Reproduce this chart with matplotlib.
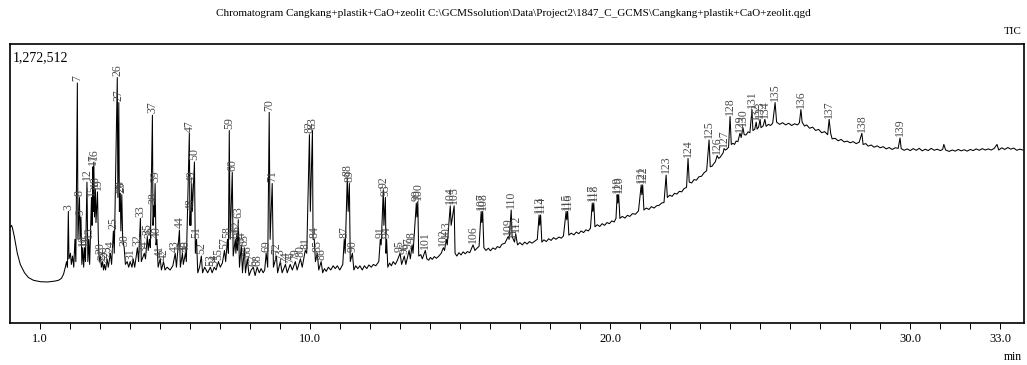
import matplotlib.pyplot as plt

plt.rcParams['font.family'] = ['Liberation Serif', 'DejaVu Serif']

title = ("Chromatogram Cangkang+plastik+CaO+zeolit C:\\GCMSsolution\\Data\\Project2\\"
         "1847_C_GCMS\\Cangkang+plastik+CaO+zeolit.qgd")
FULL_SCALE = 1272512          # counts at top of frame
x_ticks = list(range(1, 34))
x_ticklabels = {1: '1.0', 10: '10.0', 20: '20.0', 30: '30.0', 33: '33.0'}

# TIC trace: (retention time in min, % of full scale)
trace_points = [
    (0.03, 34.4), (0.07, 35.0), (0.10, 34.0), (0.16, 31.0), (0.26, 25.0), (0.36, 21.0),
    (0.50, 18.0), (0.63, 16.3), (0.80, 15.3), (1.03, 14.8), (1.26, 14.7), (1.50, 15.0),
    (1.63, 15.3), (1.73, 16.0), (1.80, 17.5), (1.86, 20.0), (1.90, 22.0), (1.93, 20.0),
    (1.96, 40.0), (1.98, 23.0), (2.03, 25.0), (2.06, 21.0), (2.10, 24.0), (2.14, 20.0),
    (2.18, 30.0), (2.21, 22.0), (2.26, 86.0), (2.28, 30.0), (2.33, 45.0), (2.35, 30.0),
    (2.38, 38.0), (2.41, 21.0), (2.44, 27.0), (2.47, 20.0), (2.50, 27.0), (2.53, 22.0),
    (2.58, 50.5), (2.61, 22.0), (2.64, 30.0), (2.67, 21.0), (2.73, 45.0), (2.75, 35.0),
    (2.78, 56.0), (2.79, 40.0), (2.81, 57.7), (2.83, 38.0), (2.86, 48.0), (2.88, 36.0),
    (2.93, 47.0), (2.96, 30.0), (2.99, 22.0), (3.03, 24.0), (3.06, 20.0), (3.10, 22.0),
    (3.13, 19.0), (3.16, 21.0), (3.20, 19.0), (3.25, 23.0), (3.29, 20.0), (3.36, 25.0),
    (3.40, 21.0), (3.46, 33.0), (3.49, 25.0), (3.59, 88.0), (3.61, 45.0), (3.64, 79.0),
    (3.66, 40.0), (3.69, 46.5), (3.71, 33.0), (3.74, 46.0), (3.77, 30.0), (3.82, 27.0),
    (3.86, 21.0), (3.92, 22.0), (3.97, 20.0), (4.02, 22.0), (4.08, 20.0), (4.12, 23.0),
    (4.17, 20.0), (4.26, 27.0), (4.30, 22.0), (4.36, 37.5), (4.39, 22.0), (4.49, 25.0),
    (4.53, 23.0), (4.59, 31.0), (4.62, 26.0), (4.66, 30.0), (4.69, 27.0), (4.76, 74.5),
    (4.78, 35.0), (4.81, 42.0), (4.82, 38.0), (4.85, 50.0), (4.88, 28.0), (4.91, 30.0),
    (4.95, 20.0), (5.02, 23.0), (5.06, 19.0), (5.13, 22.0), (5.18, 19.0), (5.25, 20.0),
    (5.35, 19.0), (5.44, 20.5), (5.52, 25.0), (5.56, 20.0), (5.66, 33.3), (5.69, 20.0),
    (5.76, 25.0), (5.79, 21.0), (5.86, 25.0), (5.89, 22.0), (5.99, 68.0), (6.01, 35.0),
    (6.03, 40.0), (6.04, 35.0), (6.07, 50.0), (6.09, 40.0), (6.16, 57.7), (6.19, 25.0),
    (6.23, 30.0), (6.27, 18.0), (6.33, 20.0), (6.39, 24.0), (6.43, 18.0), (6.50, 20.0),
    (6.60, 18.0), (6.69, 20.0), (6.75, 18.0), (6.82, 20.0), (6.88, 19.0), (6.96, 22.0),
    (7.02, 20.0), (7.09, 21.5), (7.16, 26.0), (7.20, 22.0), (7.26, 30.0), (7.29, 25.0),
    (7.32, 69.0), (7.35, 30.0), (7.42, 54.0), (7.45, 24.0), (7.52, 30.0), (7.54, 25.0),
    (7.57, 32.0), (7.59, 26.0), (7.62, 37.0), (7.66, 20.0), (7.72, 28.0), (7.76, 18.0),
    (7.82, 27.0), (7.86, 18.0), (7.92, 23.0), (7.98, 17.0), (8.05, 19.0), (8.12, 20.0),
    (8.18, 17.0), (8.25, 20.0), (8.32, 18.0), (8.38, 19.5), (8.45, 18.0), (8.50, 19.0),
    (8.55, 25.0), (8.60, 20.0), (8.65, 75.5), (8.68, 30.0), (8.75, 50.0), (8.79, 20.0),
    (8.89, 24.0), (8.93, 18.0), (9.02, 22.0), (9.08, 18.0), (9.19, 21.0), (9.25, 18.0),
    (9.35, 21.0), (9.42, 19.0), (9.52, 22.0), (9.58, 19.0), (9.69, 23.0), (9.75, 20.0),
    (9.85, 26.0), (9.90, 25.0), (9.99, 67.5), (10.02, 40.0), (10.09, 69.0), (10.11, 30.0),
    (10.15, 30.0), (10.19, 22.0), (10.25, 25.0), (10.30, 19.0), (10.38, 22.0), (10.43, 18.0),
    (10.49, 19.5), (10.55, 18.5), (10.62, 20.0), (10.70, 19.0), (10.78, 20.5), (10.85, 19.5),
    (10.92, 20.5), (11.00, 19.0), (11.10, 21.0), (11.15, 30.0), (11.18, 25.0), (11.25, 52.0),
    (11.28, 40.0), (11.32, 50.0), (11.35, 22.0), (11.42, 25.0), (11.47, 19.0), (11.53, 20.5),
    (11.60, 19.5), (11.67, 20.5), (11.75, 19.0), (11.82, 20.5), (11.90, 19.5), (11.97, 20.8),
    (12.05, 20.0), (12.12, 21.0), (12.20, 20.5), (12.30, 22.0), (12.35, 30.0), (12.38, 28.0),
    (12.45, 47.7), (12.47, 35.0), (12.52, 45.0), (12.54, 25.0), (12.56, 30.0), (12.60, 20.0),
    (12.66, 21.5), (12.72, 20.5), (12.78, 22.0), (12.85, 21.0), (12.92, 22.5), (13.01, 25.0),
    (13.06, 21.0), (13.15, 24.0), (13.20, 21.0), (13.31, 26.0), (13.35, 23.0), (13.41, 28.0),
    (13.44, 25.0), (13.55, 43.0), (13.57, 38.0), (13.60, 43.5), (13.63, 24.0), (13.70, 24.5),
    (13.75, 23.0), (13.85, 26.0), (13.90, 23.0), (13.96, 22.5), (14.02, 23.5), (14.08, 22.8),
    (14.15, 23.8), (14.22, 23.2), (14.30, 24.0), (14.38, 25.0), (14.45, 27.0), (14.49, 26.0),
    (14.55, 30.0), (14.58, 28.0), (14.68, 42.0), (14.71, 35.0), (14.81, 42.0), (14.84, 25.0),
    (14.90, 24.0), (14.97, 25.2), (15.04, 24.4), (15.11, 25.5), (15.18, 24.8), (15.25, 25.6),
    (15.33, 25.2), (15.44, 28.0), (15.50, 26.0), (15.57, 26.8), (15.64, 27.5), (15.71, 40.0),
    (15.73, 36.0), (15.76, 40.0), (15.80, 27.0), (15.87, 26.0), (15.95, 26.8), (16.02, 25.9),
    (16.10, 26.9), (16.18, 26.4), (16.25, 27.4), (16.33, 27.0), (16.40, 28.2), (16.50, 28.6),
    (16.61, 31.0), (16.64, 30.0), (16.71, 40.5), (16.74, 31.0), (16.78, 30.0), (16.82, 29.0),
    (16.86, 32.0), (16.92, 28.0), (17.00, 28.8), (17.08, 28.0), (17.16, 29.0), (17.24, 28.3),
    (17.32, 29.2), (17.40, 28.6), (17.50, 29.4), (17.58, 30.0), (17.64, 38.7), (17.66, 35.0),
    (17.69, 38.7), (17.73, 29.0), (17.80, 29.8), (17.88, 29.2), (17.96, 30.2), (18.04, 29.6),
    (18.12, 30.6), (18.20, 30.0), (18.30, 30.8), (18.38, 30.4), (18.45, 31.2), (18.54, 40.0),
    (18.56, 37.0), (18.59, 40.0), (18.63, 31.5), (18.71, 32.2), (18.80, 31.6), (18.88, 32.6),
    (18.96, 32.0), (19.04, 33.0), (19.12, 32.4), (19.20, 33.4), (19.28, 33.0), (19.35, 34.0),
    (19.41, 43.0), (19.43, 40.0), (19.46, 43.0), (19.50, 34.5), (19.58, 35.2), (19.66, 34.6),
    (19.74, 35.6), (19.82, 35.0), (19.90, 36.0), (19.98, 35.6), (20.06, 36.6), (20.14, 36.2),
    (20.20, 37.5), (20.24, 46.0), (20.26, 43.0), (20.29, 46.0), (20.33, 37.5), (20.41, 38.2),
    (20.50, 37.6), (20.58, 38.6), (20.66, 38.2), (20.75, 39.2), (20.85, 39.0), (20.95, 40.2),
    (21.04, 49.5), (21.06, 46.0), (21.09, 49.5), (21.13, 40.5), (21.21, 41.2), (21.30, 40.7),
    (21.38, 41.7), (21.47, 41.2), (21.55, 42.0), (21.64, 42.2), (21.72, 43.0), (21.80, 43.2),
    (21.87, 53.0), (21.91, 45.0), (21.99, 45.8), (22.07, 45.4), (22.15, 46.5), (22.23, 46.2),
    (22.31, 47.2), (22.39, 47.0), (22.47, 48.2), (22.55, 48.6), (22.60, 59.0), (22.64, 50.5),
    (22.72, 50.2), (22.80, 51.4), (22.88, 51.2), (22.96, 52.4), (23.05, 52.6), (23.13, 53.8),
    (23.22, 54.6), (23.30, 65.6), (23.34, 56.0), (23.40, 56.2), (23.45, 57.0), (23.51, 57.8),
    (23.57, 60.0), (23.62, 59.0), (23.67, 59.4), (23.72, 60.2), (23.77, 61.0), (23.80, 62.5),
    (23.85, 62.0), (23.90, 62.4), (23.95, 63.0), (24.00, 74.0), (24.04, 64.0), (24.10, 64.4),
    (24.15, 64.0), (24.20, 65.2), (24.26, 65.0), (24.33, 68.0), (24.37, 66.5), (24.43, 70.0),
    (24.47, 67.5), (24.53, 67.4), (24.60, 68.5), (24.66, 68.2), (24.73, 76.5), (24.76, 69.0),
    (24.82, 69.4), (24.87, 72.0), (24.90, 69.5), (24.95, 70.2), (25.00, 73.0), (25.03, 70.0),
    (25.10, 70.6), (25.16, 73.0), (25.20, 70.5), (25.28, 71.2), (25.35, 70.8), (25.42, 71.6),
    (25.50, 79.0), (25.55, 72.0), (25.65, 71.2), (25.75, 71.8), (25.85, 71.0), (25.95, 71.6),
    (26.05, 70.8), (26.15, 71.4), (26.25, 71.0), (26.31, 71.8), (26.36, 76.5), (26.40, 72.0),
    (26.48, 70.6), (26.55, 71.0), (26.65, 69.8), (26.75, 70.2), (26.85, 69.0), (26.95, 69.4),
    (27.05, 68.2), (27.15, 68.6), (27.25, 67.5), (27.30, 73.0), (27.35, 68.0), (27.40, 66.0),
    (27.50, 66.2), (27.60, 65.3), (27.70, 65.8), (27.80, 64.9), (27.90, 65.2), (28.00, 64.6),
    (28.10, 65.0), (28.20, 64.3), (28.30, 64.8), (28.39, 68.0), (28.43, 64.0), (28.52, 64.3),
    (28.60, 63.4), (28.70, 63.8), (28.80, 63.0), (28.90, 63.5), (29.00, 62.8), (29.10, 63.2),
    (29.20, 62.4), (29.30, 62.9), (29.40, 62.2), (29.50, 62.8), (29.60, 62.6), (29.66, 66.3),
    (29.70, 62.5), (29.80, 61.9), (29.90, 62.4), (30.00, 61.8), (30.10, 62.5), (30.20, 61.9),
    (30.30, 62.6), (30.40, 61.7), (30.50, 62.3), (30.60, 61.8), (30.70, 62.6), (30.80, 61.9),
    (30.90, 62.3), (31.00, 61.8), (31.08, 62.2), (31.12, 64.0), (31.18, 62.0), (31.30, 61.5),
    (31.40, 62.0), (31.50, 61.6), (31.60, 62.2), (31.70, 61.7), (31.80, 62.1), (31.90, 61.6),
    (32.00, 62.2), (32.10, 61.8), (32.20, 62.4), (32.30, 61.9), (32.40, 62.5), (32.50, 62.0),
    (32.60, 62.4), (32.70, 62.0), (32.80, 62.6), (32.89, 64.0), (32.95, 62.0), (33.05, 62.8),
    (33.15, 62.2), (33.25, 62.9), (33.35, 62.3), (33.45, 62.7), (33.55, 61.9), (33.65, 62.3),
    (33.75, 62.0),
]

# numbered peaks: number, retention time (min), apex (% of full scale)
peak_numbers = [3, 7, 8, 9, 10, 11, 12, 13, 15, 17, 16, 18, 19, 20, 21, 22, 23, 24, 25, 26,
                27, 28, 29, 30, 31, 32, 33, 34, 35, 36, 37, 38, 39, 40, 41, 42, 43, 44, 45, 46,
                47, 48, 49, 50, 51, 52, 53, 54, 55, 57, 58, 59, 60, 61, 62, 63, 64, 65, 66, 67,
                68, 69, 70, 71, 72, 73, 74, 76, 79, 80, 81, 82, 83, 84, 85, 86, 87, 88, 89, 90,
                91, 92, 93, 94, 95, 96, 97, 98, 99, 100, 101, 102, 103, 104, 105, 106, 107, 108,
                109, 110, 111, 112, 113, 114, 115, 116, 117, 118, 119, 120, 121, 122, 123, 124,
                125, 126, 127, 128, 129, 130, 131, 132, 133, 134, 135, 136, 137, 138, 139]
peak_rt = [1.96, 2.26, 2.33, 2.38, 2.44, 2.50, 2.58, 2.64, 2.73, 2.78, 2.81, 2.86, 2.93, 3.03,
           3.10, 3.16, 3.25, 3.36, 3.46, 3.59, 3.64, 3.69, 3.74, 3.82, 4.02, 4.26, 4.36, 4.49,
           4.59, 4.66, 4.76, 4.81, 4.85, 4.91, 5.02, 5.13, 5.52, 5.66, 5.76, 5.86, 5.99, 6.03,
           6.07, 6.16, 6.23, 6.39, 6.69, 6.82, 6.96, 7.16, 7.26, 7.32, 7.42, 7.52, 7.57, 7.62,
           7.72, 7.82, 7.92, 8.12, 8.25, 8.55, 8.65, 8.75, 8.89, 9.02, 9.19, 9.35, 9.52, 9.69,
           9.85, 9.99, 10.09, 10.15, 10.25, 10.38, 11.15, 11.25, 11.32, 11.42, 12.35, 12.45,
           12.52, 12.56, 13.01, 13.15, 13.31, 13.41, 13.55, 13.60, 13.85, 14.45, 14.55, 14.68,
           14.81, 15.44, 15.71, 15.76, 16.61, 16.71, 16.78, 16.86, 17.64, 17.69, 18.54, 18.59,
           19.41, 19.46, 20.24, 20.29, 21.04, 21.09, 21.87, 22.60, 23.30, 23.57, 23.80, 24.00,
           24.33, 24.43, 24.73, 24.87, 25.00, 25.16, 25.50, 26.36, 27.30, 28.39, 29.66]
peak_height = [40.0, 86.0, 45.0, 38.0, 27.0, 27.0, 50.5, 30.0, 45.0, 56.0, 57.7, 48.0, 47.0,
               24.0, 22.0, 21.0, 23.0, 25.0, 33.0, 88.0, 79.0, 46.5, 46.0, 27.0, 22.0, 27.0,
               37.5, 25.0, 31.0, 30.0, 74.5, 42.0, 50.0, 30.0, 23.0, 22.0, 25.0, 33.3, 25.0,
               25.0, 68.0, 40.0, 50.0, 57.7, 30.0, 24.0, 20.0, 20.0, 22.0, 26.0, 30.0, 69.0,
               54.0, 30.0, 32.0, 37.0, 28.0, 27.0, 23.0, 20.0, 20.0, 25.0, 75.5, 50.0, 24.0,
               22.0, 21.0, 21.0, 22.0, 23.0, 26.0, 67.5, 69.0, 30.0, 25.0, 22.0, 30.0, 52.0,
               50.0, 25.0, 30.0, 47.7, 45.0, 30.0, 25.0, 24.0, 26.0, 28.0, 43.0, 43.5, 26.0,
               27.0, 30.0, 42.0, 42.0, 28.0, 40.0, 40.0, 31.0, 40.5, 30.0, 32.0, 38.7, 38.7,
               40.0, 40.0, 43.0, 43.0, 46.0, 46.0, 49.5, 49.5, 53.0, 59.0, 65.6, 60.0, 62.5,
               74.0, 68.0, 70.0, 76.5, 72.0, 73.0, 73.0, 79.0, 76.5, 73.0, 68.0, 66.3]

rt = [p[0] for p in trace_points]
pct = [p[1] for p in trace_points]

fig = plt.figure(figsize=(10.27, 3.65), dpi=100)
ax = fig.add_axes([9.5 / 1027, 1 - 323 / 365, (1024 - 9.5) / 1027, (323 - 44) / 365])

ax.plot(rt, pct, color='black', lw=0.75)

for n, t, h in zip(peak_numbers, peak_rt, peak_height):
    ax.text(t, h + 0.6, str(n), rotation=90, ha='center', va='bottom',
            fontsize=8.5, color='#4a4a4a')

ax.set_xlim(0.0, 33.79)
ax.set_ylim(0, 100)
ax.set_yticks([])
ax.set_xticks(x_ticks)
ax.set_xticklabels([x_ticklabels.get(t, '') for t in x_ticks])
ax.tick_params(axis='x', direction='out', length=4, width=0.7, labelsize=9, pad=3)
for sp in ax.spines.values():
    sp.set_linewidth(1.2)

ax.text(0.003, 0.975, f'{FULL_SCALE:,}', transform=ax.transAxes,
        ha='left', va='top', fontsize=10)
fig.text(0.5, 1 - 13 / 365, title, ha='center', va='center', fontsize=8)
fig.text(1022 / 1027, 1 - 31 / 365, 'TIC', ha='right', va='center', fontsize=8)
fig.text(1022 / 1027, 1 - 357 / 365, 'min', ha='right', va='center', fontsize=8.5)

fig.savefig('out.png', dpi=100)
